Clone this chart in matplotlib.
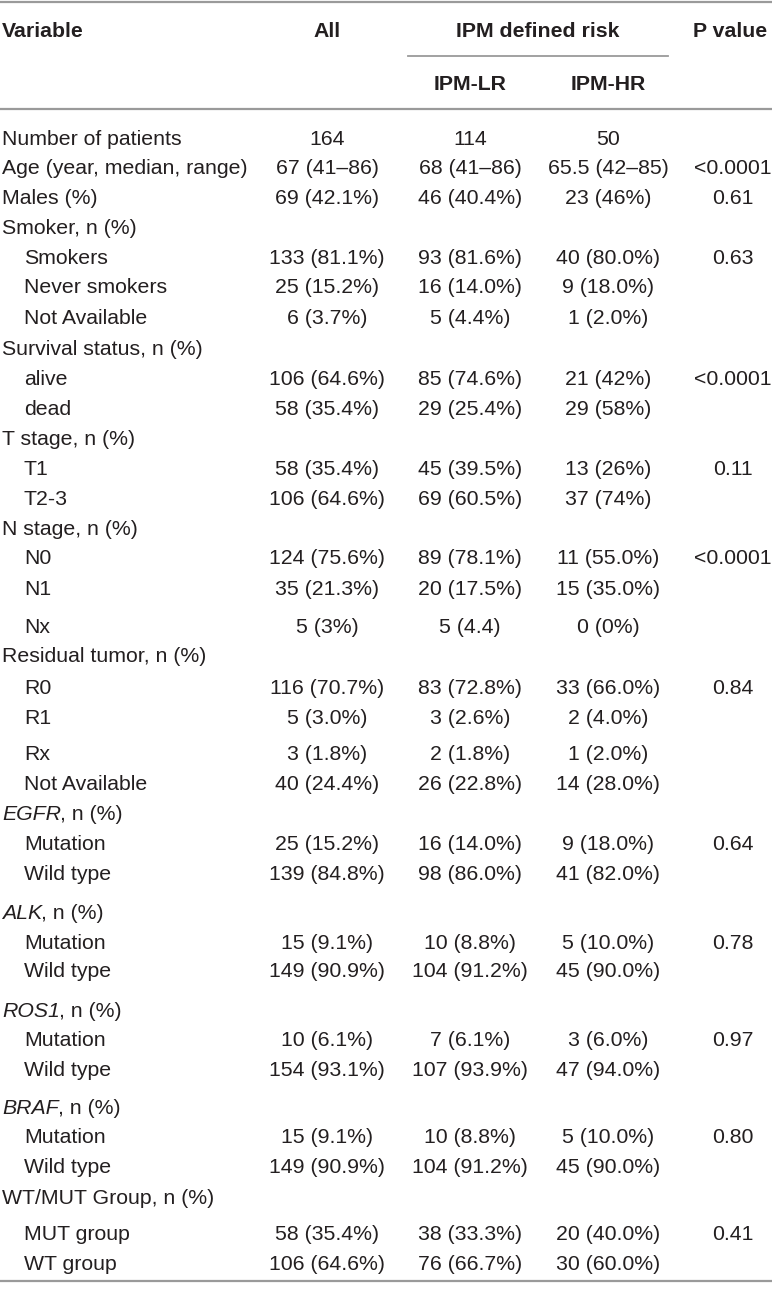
import matplotlib
matplotlib.use("Agg")
import matplotlib.pyplot as plt

plt.rcParams['font.family'] = ['Liberation Sans', 'DejaVu Sans']

# table content; gene names are drawn in italics, followed by the suffix
labels = ["Number of patients", "Age (year, median, range)", "Males (%)",
          "Smoker, n (%)", "Smokers", "Never smokers", "Not Available",
          "Survival status, n (%)", "alive", "dead",
          "T stage, n (%)", "T1", "T2-3",
          "N stage, n (%)", "N0", "N1", "Nx",
          "Residual tumor, n (%)", "R0", "R1", "Rx", "Not Available",
          "EGFR", "Mutation", "Wild type",
          "ALK", "Mutation", "Wild type",
          "ROS1", "Mutation", "Wild type",
          "BRAF", "Mutation", "Wild type",
          "WT/MUT Group, n (%)", "MUT group", "WT group"]
genes = ["EGFR", "ALK", "ROS1", "BRAF"]
gene_suffix = ", n (%)"
indented = [0, 0, 0, 0, 1, 1, 1, 0, 1, 1, 0, 1, 1, 0, 1, 1, 1,
            0, 1, 1, 1, 1, 0, 1, 1, 0, 1, 1, 0, 1, 1, 0, 1, 1, 0, 1, 1]
col_all = ["164", "67 (41–86)", "69 (42.1%)", "", "133 (81.1%)", "25 (15.2%)", "6 (3.7%)",
           "", "106 (64.6%)", "58 (35.4%)", "", "58 (35.4%)", "106 (64.6%)",
           "", "124 (75.6%)", "35 (21.3%)", "5 (3%)",
           "", "116 (70.7%)", "5 (3.0%)", "3 (1.8%)", "40 (24.4%)",
           "", "25 (15.2%)", "139 (84.8%)", "", "15 (9.1%)", "149 (90.9%)",
           "", "10 (6.1%)", "154 (93.1%)", "", "15 (9.1%)", "149 (90.9%)",
           "", "58 (35.4%)", "106 (64.6%)"]
col_lr = ["114", "68 (41–86)", "46 (40.4%)", "", "93 (81.6%)", "16 (14.0%)", "5 (4.4%)",
          "", "85 (74.6%)", "29 (25.4%)", "", "45 (39.5%)", "69 (60.5%)",
          "", "89 (78.1%)", "20 (17.5%)", "5 (4.4)",
          "", "83 (72.8%)", "3 (2.6%)", "2 (1.8%)", "26 (22.8%)",
          "", "16 (14.0%)", "98 (86.0%)", "", "10 (8.8%)", "104 (91.2%)",
          "", "7 (6.1%)", "107 (93.9%)", "", "10 (8.8%)", "104 (91.2%)",
          "", "38 (33.3%)", "76 (66.7%)"]
col_hr = ["50", "65.5 (42–85)", "23 (46%)", "", "40 (80.0%)", "9 (18.0%)", "1 (2.0%)",
          "", "21 (42%)", "29 (58%)", "", "13 (26%)", "37 (74%)",
          "", "11 (55.0%)", "15 (35.0%)", "0 (0%)",
          "", "33 (66.0%)", "2 (4.0%)", "1 (2.0%)", "14 (28.0%)",
          "", "9 (18.0%)", "41 (82.0%)", "", "5 (10.0%)", "45 (90.0%)",
          "", "3 (6.0%)", "47 (94.0%)", "", "5 (10.0%)", "45 (90.0%)",
          "", "20 (40.0%)", "30 (60.0%)"]
p_values = ["", "<0.0001", "0.61", "", "0.63", "", "", "", "<0.0001", "", "", "0.11", "",
            "", "<0.0001", "", "", "", "0.84", "", "", "", "", "0.64", "", "", "0.78", "",
            "", "0.97", "", "", "0.80", "", "", "0.41", ""]

# layout (pixel rows)
row_y = [138, 167, 197, 227, 257, 286, 317, 348, 378, 408, 438, 468, 498, 528, 557, 588,
         626, 655, 687, 717, 753, 783, 813, 843, 873, 912, 942, 970, 1010, 1039, 1069,
         1107, 1136, 1166, 1197, 1233, 1263]
x_all, x_lr, x_hr, x_p = 327, 470, 608, 733

W, H = 772, 1298
fig = plt.figure(figsize=(W / 100, H / 100), dpi=100)
ax = fig.add_axes([0, 0, 1, 1])
ax.set_xlim(0, W)
ax.set_ylim(H, 0)
ax.axis("off")

fs = 15.3
tc = "#231f20"
lc = "#9a9a9a"

# rules
ax.plot([0, W], [2, 2], color=lc, lw=1.6)
ax.plot([0, W], [109, 109], color=lc, lw=1.6)
ax.plot([408, 668], [56, 56], color=lc, lw=1.3)
ax.plot([0, W], [1281, 1281], color=lc, lw=1.6)

# header
hb = 7
ax.text(2, 30 + hb, "Variable", fontsize=fs, weight="bold", color=tc, va="baseline")
ax.text(x_all, 30 + hb, "All", fontsize=fs, weight="bold", color=tc, va="baseline", ha="center")
ax.text(538, 30 + hb, "IPM defined risk", fontsize=fs, weight="bold", color=tc, va="baseline", ha="center")
ax.text(730, 30 + hb, "P value", fontsize=fs, weight="bold", color=tc, va="baseline", ha="center")
ax.text(x_lr, 83 + hb, "IPM-LR", fontsize=fs, weight="bold", color=tc, va="baseline", ha="center")
ax.text(x_hr, 83 + hb, "IPM-HR", fontsize=fs, weight="bold", color=tc, va="baseline", ha="center")

for i, y in enumerate(row_y):
    yb = y + hb
    x0 = 2 + 22 * indented[i]
    if labels[i] in genes:
        t = ax.text(x0, yb, labels[i], fontsize=fs, color=tc, va="baseline", style="italic")
        ax.annotate(gene_suffix, xy=(1, 0), xycoords=t, xytext=(-0.5, 0),
                    textcoords="offset points", fontsize=fs, color=tc, va="bottom")
    else:
        ax.text(x0, yb, labels[i], fontsize=fs, color=tc, va="baseline")
    ax.text(x_all, yb, col_all[i], fontsize=fs, color=tc, va="baseline", ha="center")
    ax.text(x_lr, yb, col_lr[i], fontsize=fs, color=tc, va="baseline", ha="center")
    ax.text(x_hr, yb, col_hr[i], fontsize=fs, color=tc, va="baseline", ha="center")
    ax.text(x_p, yb, p_values[i], fontsize=fs, color=tc, va="baseline", ha="center")

fig.savefig("out.png", dpi=100)
